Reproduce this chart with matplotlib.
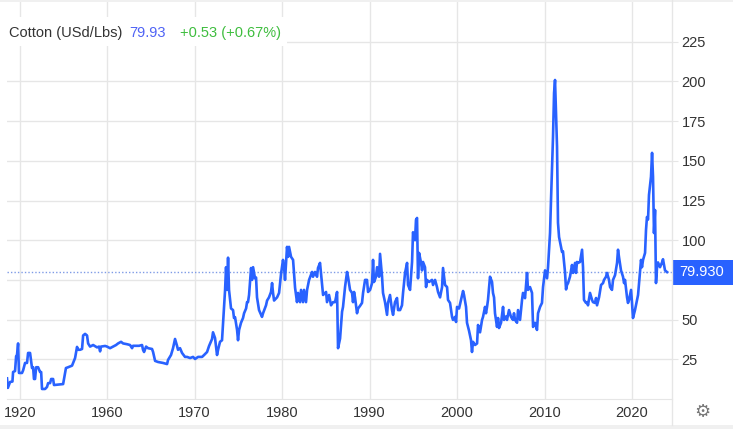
import matplotlib
matplotlib.use('Agg')
import matplotlib.pyplot as plt
import matplotlib.transforms as mtransforms
from matplotlib.patches import Rectangle
from matplotlib.lines import Line2D
import numpy as np

plt.rcParams['font.family'] = ['Liberation Sans', 'DejaVu Sans']

# Cotton price, US cents per pound
years = [
    1914.0, 1914.4, 1915.4, 1916.5, 1916.8, 1917.7, 1918.2, 1918.6, 1919.1, 1919.5,
    1920.9, 1921.4, 1922.3, 1923.2, 1923.7, 1924.6, 1925.5, 1926.0, 1926.4, 1926.9,
    1927.4, 1928.3, 1929.2, 1929.7, 1930.1, 1931.5, 1932.4, 1932.9, 1933.8, 1934.3,
    1935.2, 1935.6, 1939.8, 1941.1, 1942.1, 1943.9, 1944.4, 1945.3, 1946.2, 1946.7,
    1947.6, 1948.5, 1949.0, 1949.9, 1950.8, 1951.3, 1952.2, 1953.6, 1955.4, 1956.3,
    1956.8, 1957.2, 1959.1,
    1960.0, 1960.34, 1960.69, 1961.03, 1961.26, 1961.6, 1961.83, 1962.29, 1962.63, 1962.86,
    1962.97, 1963.43, 1963.66, 1964.0, 1964.11, 1964.23, 1964.46, 1964.69, 1965.14, 1965.26,
    1965.49, 1965.83, 1966.4, 1966.86, 1966.97, 1967.31, 1967.54, 1967.77, 1968.0, 1968.11,
    1968.34, 1968.57, 1968.91, 1969.14, 1969.49, 1969.83, 1970.06, 1970.4, 1970.86, 1971.09,
    1971.43, 1971.66, 1972.0, 1972.11, 1972.34, 1972.57, 1972.69, 1972.91, 1973.14, 1973.26,
    1973.49, 1973.6, 1973.71, 1973.83, 1973.94, 1974.17, 1974.4, 1974.51, 1974.63, 1974.86,
    1974.97, 1975.09, 1975.31, 1975.54, 1975.66, 1975.89, 1976.0, 1976.11, 1976.23, 1976.46,
    1976.57, 1976.69, 1976.91, 1977.03, 1977.14, 1977.37, 1977.71, 1977.83, 1978.17, 1978.29,
    1978.51, 1978.74, 1978.86, 1978.97, 1979.09, 1979.43, 1979.66, 1979.89, 1980.11, 1980.23,
    1980.34, 1980.57, 1980.69, 1980.8, 1981.03, 1981.26, 1981.49, 1981.71, 1981.83, 1982.06,
    1982.17, 1982.4, 1982.51, 1982.74, 1982.86, 1983.09, 1983.43, 1983.54, 1983.77, 1984.0,
    1984.11, 1984.34, 1984.57, 1984.69, 1985.03, 1985.14, 1985.37, 1985.6, 1985.83, 1986.06,
    1986.29, 1986.4, 1986.63, 1986.86, 1986.97, 1987.2, 1987.43, 1987.54, 1987.77, 1988.0,
    1988.11, 1988.23, 1988.34, 1988.57, 1988.69, 1988.91, 1989.14, 1989.26, 1989.49, 1989.71,
    1989.83, 1990.06, 1990.29, 1990.4, 1990.51, 1990.74, 1990.86, 1991.09, 1991.2, 1991.43,
    1991.54, 1991.77, 1992.0, 1992.11, 1992.34, 1992.57, 1992.69, 1992.91, 1993.14, 1993.26,
    1993.49, 1993.71, 1993.83, 1994.06, 1994.29, 1994.4, 1994.63, 1994.86, 1994.97, 1995.2,
    1995.31, 1995.43, 1995.54, 1995.66, 1995.89, 1996.0, 1996.11, 1996.34, 1996.46, 1996.57,
    1996.8, 1997.14, 1997.26, 1997.49, 1997.71, 1997.83, 1998.06, 1998.29, 1998.4, 1998.63,
    1998.86, 1998.97, 1999.2, 1999.43, 1999.54, 1999.77, 1999.89, 2000.0, 2000.23, 2000.46,
    2000.69, 2000.8, 2001.03, 2001.14, 2001.37, 2001.6, 2001.71, 2001.83, 2002.06, 2002.29,
    2002.4, 2002.63, 2002.86, 2002.97, 2003.2, 2003.31, 2003.43, 2003.54, 2003.77, 2004.0,
    2004.11, 2004.23, 2004.34, 2004.57, 2004.69, 2004.8, 2005.03, 2005.26, 2005.37, 2005.6,
    2005.71, 2005.94, 2006.17, 2006.4, 2006.51, 2006.63, 2006.86, 2006.97, 2007.2, 2007.43,
    2007.54, 2007.77, 2008.0, 2008.11, 2008.34, 2008.57, 2008.69, 2008.91, 2009.14, 2009.26,
    2009.49, 2009.71, 2009.83, 2010.06, 2010.29, 2010.4, 2010.63, 2010.74, 2010.97, 2011.09,
    2011.2, 2011.31, 2011.43, 2011.54, 2011.66, 2011.89, 2012.0, 2012.11, 2012.34, 2012.46,
    2012.57, 2012.69, 2012.91, 2013.14, 2013.26, 2013.49, 2013.6, 2013.71, 2013.83, 2014.06,
    2014.29, 2014.4, 2014.51, 2014.74, 2014.86, 2014.97, 2015.2, 2015.43, 2015.54, 2015.77,
    2015.89, 2016.0, 2016.23, 2016.46, 2016.69, 2016.8, 2017.03, 2017.14, 2017.37, 2017.49,
    2017.71, 2017.83, 2018.06, 2018.29, 2018.4, 2018.51, 2018.74, 2018.97, 2019.09, 2019.2,
    2019.43, 2019.54, 2019.66, 2019.89, 2020.0, 2020.11, 2020.34, 2020.57, 2020.69, 2020.91,
    2021.03, 2021.14, 2021.26, 2021.49, 2021.6, 2021.71, 2021.83, 2021.94, 2022.17, 2022.29,
    2022.4, 2022.51, 2022.63, 2022.74, 2022.86, 2022.97, 2023.2, 2023.43, 2023.54, 2023.77,
    2024.0,
]
prices = [
    13, 7, 10.7, 11, 17, 17.6, 27, 27.7, 35, 16.4,
    16.4, 18, 22.7, 22.7, 29, 29, 19.5, 20, 12.6, 12.6,
    20, 20, 17, 17, 6.3, 6.3, 7.6, 10, 10, 12.6,
    12.6, 8.8, 9.4, 19.5, 20, 21, 22.7, 25.8, 32.8, 31,
    31, 31.5, 40, 41, 40, 35, 33, 34, 32.5, 33,
    30, 33, 33.4,
    33, 32, 33, 34, 35, 36, 35, 34.5, 34, 32,
    33.5, 33.5, 33.5, 34, 31, 29.6, 33, 32, 31.5, 29.6,
    24, 23.3, 22.7, 22, 24.6, 27.7, 32, 37.8, 33.4, 31,
    32, 29, 26.5, 26.5, 25.8, 26.5, 25.2, 26.5, 26.5, 27.7,
    29.6, 33.4, 37.8, 42, 38.4, 27.7, 31, 36, 37, 48,
    68.7, 83, 68.7, 89, 68.7, 57, 56, 51, 51.5, 43.5,
    37, 43.5, 48, 51, 54, 57, 61, 61, 65.5, 82.5,
    75, 83, 76, 76.5, 64, 56, 51.7, 54, 59, 62,
    64, 67.4, 73, 66.8, 62, 64, 66.8, 79, 87.6, 83,
    75, 95.8, 89.5, 95.8, 89.5, 87.6, 70, 61, 66.8, 61,
    68.7, 61, 68.7, 61, 68.7, 75, 80, 77, 80, 77,
    82.5, 85.7, 72, 65.5, 67.4, 61, 65.5, 59, 61, 61,
    67.4, 32, 38, 55, 58, 70.5, 80, 77, 68.7, 66.8,
    61, 67.4, 64, 54, 57, 58.6, 60.5, 66.8, 75, 75,
    67.4, 68.7, 73, 87.6, 73.7, 77, 83, 77, 91.4, 77,
    66.8, 61, 53, 60.5, 65.5, 56, 53, 61, 63.6, 56,
    56, 59, 66.8, 79.4, 85.7, 71.8, 68.7, 86.3, 105, 100,
    112.8, 114, 76, 92, 85.7, 81, 86.3, 83, 70.5, 75,
    73.7, 75, 71.8, 75, 70.5, 67.4, 64, 70.5, 82.5, 71.8,
    70.5, 62.4, 60.5, 51.7, 49.8, 51.7, 48.5, 58, 57, 62.4,
    68, 65.5, 58, 48, 43, 37, 29.6, 36, 34, 35,
    46.6, 42, 49.8, 51.7, 58, 54, 58, 62.4, 77, 73.7,
    66.8, 64, 54, 45.4, 51, 44.7, 48, 58, 49.8, 52,
    49.8, 56, 51.7, 49.8, 54, 49.8, 48, 56, 49.8, 62.4,
    66.8, 63.5, 79.4, 68.7, 70.5, 66.8, 45.4, 48, 43.5, 54,
    58, 60.5, 70.5, 81, 76, 83, 104.5, 125, 165, 192.7,
    200.9, 180, 158.8, 111, 102, 95.8, 92.6, 93, 80, 69,
    71.8, 73, 77, 84.4, 79.4, 85.7, 79.4, 86.3, 85.7, 86.3,
    94, 83, 62.4, 60.5, 61, 59, 66.8, 62.4, 61, 60.5,
    63.6, 59, 64, 71.8, 73, 75, 77, 79.4, 75, 70.5,
    68.7, 75, 78, 85.7, 94, 89.5, 81, 77, 73, 75,
    64, 60.5, 62.4, 68.7, 60.5, 51, 56, 62.4, 65.5, 79.4,
    87.6, 83, 87.6, 92, 106.5, 114.6, 113, 128.5, 140, 155,
    140, 104.5, 119, 73, 83, 86, 83, 86, 88, 81,
    79.93,
]

last_price = 79.93
x_ticks = [1920, 1960, 1970, 1980, 1990, 2000, 2010, 2020]
y_ticks = [25, 50, 75, 100, 125, 150, 175, 200, 225]

LINE = '#2962ff'
GRID = '#e6e6e6'
TXT = '#333333'
FS = 10.5

# the x axis squeezes the years before 1960
SQUEEZE = 0.2486


def fwd(x):
    x = np.asarray(x, dtype=float)
    return np.where(x < 1960, 1960 + (x - 1960) * SQUEEZE, x)


def inv(u):
    u = np.asarray(u, dtype=float)
    return np.where(u < 1960, 1960 + (u - 1960) / SQUEEZE, u)


W, H = 733, 429
fig = plt.figure(figsize=(W / 100, H / 100), dpi=100)
ax = fig.add_axes([7 / W, 1 - 399 / H, (672 - 7) / W, (399 - 2) / H])

ax.set_xscale('function', functions=(fwd, inv))
ax.plot(years, prices, color=LINE, lw=1.9, zorder=3, solid_joinstyle='round')
ax.axhline(last_price, color='#7f9be6', ls=(0, (1, 1.5)), lw=1.0, zorder=2)

ax.set_xlim(1914.0, 2024.57)
ax.set_ylim(0, 250)
ax.set_xticks(x_ticks)
ax.set_xticklabels([str(t) for t in x_ticks])
ax.set_yticks(y_ticks)
# the 75 label sits under the last-price box
ax.set_yticklabels(['' if t == 75 else str(t) for t in y_ticks])
ax.yaxis.tick_right()
ax.grid(True, color=GRID, lw=1.0, zorder=0)
ax.set_axisbelow(True)
for s in ['left', 'top', 'right']:
    ax.spines[s].set_visible(False)
ax.spines['bottom'].set_color(GRID)
ax.tick_params(axis='x', length=0, pad=5, labelsize=FS, labelcolor=TXT)
ax.tick_params(axis='y', direction='out', length=4, color=GRID, pad=3,
               labelsize=FS, labelcolor=TXT)

# right separator line running to the bottom band
fig.add_artist(Line2D([672 / W, 672 / W], [4 / H, 1], color=GRID, lw=1.0))

# last price box on the right axis
bt = mtransforms.blended_transform_factory(fig.transFigure, ax.transData)
box_h = 25 / 397 * 250
ax.add_patch(Rectangle((672 / W, last_price - box_h / 2), (W - 672) / W, box_h,
                       transform=bt, facecolor=LINE, edgecolor='none',
                       clip_on=False, zorder=5))
ax.text(679 / W, last_price, '79.930', transform=bt, color='white',
        fontsize=FS, va='center', ha='left', zorder=6)

# header with white backing
fig.add_artist(Rectangle((7 / W, 1 - 46 / H), 280 / W, 29 / H,
                         facecolor='white', edgecolor='none', zorder=4))
ty = 1 - 33 / H
fig.text(9 / W, ty, 'Cotton (USd/Lbs)', color=TXT, fontsize=FS, va='center', zorder=5)
fig.text(129 / W, ty, '79.93', color='#4f63f5', fontsize=FS, va='center', zorder=5)
fig.text(180 / W, ty, '+0.53 (+0.67%)', color='#3ebd3e', fontsize=FS, va='center', zorder=5)

# gear icon and thin bands
fig.text(702 / W, 1 - 412 / H, '\u2699', family='DejaVu Sans', color='#777777',
         fontsize=13, ha='center', va='center')
fig.add_artist(Rectangle((0, 0), 1, 4 / H, facecolor='#f0f0f0', edgecolor='none'))
fig.add_artist(Rectangle((0, 1 - 2 / H), 1, 2 / H, facecolor='#f0f0f0', edgecolor='none'))

fig.savefig('out.png', dpi=100)
